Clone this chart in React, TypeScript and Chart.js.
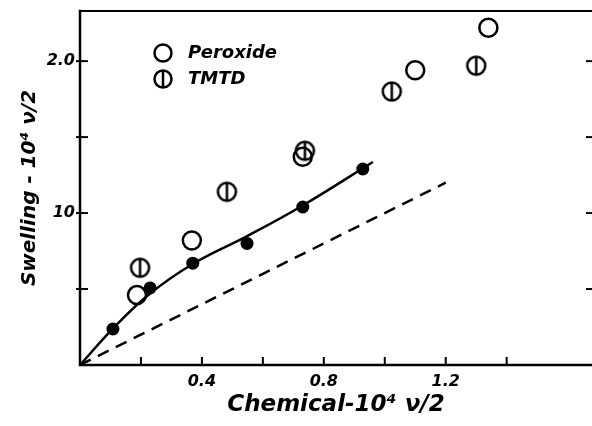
import React, { useEffect, useRef } from 'react';
import { Chart, registerables } from 'chart.js';
Chart.register(...registerables);

const peroxideX = [0.187, 0.367, 0.731, 1.1, 1.34];
const peroxideY = [0.46, 0.82, 1.37, 1.94, 2.22];
const tmtdX = [0.197, 0.482, 0.738, 1.023, 1.3];
const tmtdY = [0.64, 1.14, 1.41, 1.8, 1.97];
const filledX = [0.108, 0.23, 0.37, 0.548, 0.731, 0.928];
const filledY = [0.237, 0.507, 0.67, 0.8, 1.04, 1.29];
const curveX = [0, 0.108, 0.23, 0.37, 0.55, 0.731, 0.961];
const curveY = [0, 0.24, 0.47, 0.665, 0.85, 1.05, 1.336];
const dashX = [0, 1.2];
const dashY = [0, 1.2];
const xTickLabels: Record<string, string> = { '0.4': '0.4', '0.8': '0.8', '1.2': '1.2' };
const yTickLabels: Record<string, string> = { '1.0': '10', '2.0': '2.0' };
const legendLabels = ['Peroxide', 'TMTD'];
const xTitle = 'Chemical-10\u2074 \u03BD/2';
const yTitle = 'Swelling - 10\u2074 \u03BD/2';
const xStep = 0.2;
const yStep = 0.5;

const zip = (xs: number[], ys: number[]) => xs.map((x, i) => ({ x, y: ys[i] }));
const onStep = (v: number, step: number) => Math.abs(v / step - Math.round(v / step)) < 1e-6;

function makeTmtdMarker(r: number, lw: number): HTMLCanvasElement {
  const size = Math.ceil(2 * r + lw + 2);
  const c = document.createElement('canvas');
  c.width = size;
  c.height = size;
  const g = c.getContext('2d')!;
  const m = size / 2;
  g.strokeStyle = '#000';
  g.lineWidth = lw;
  g.beginPath();
  g.arc(m, m, r, 0, Math.PI * 2);
  g.stroke();
  g.beginPath();
  g.moveTo(m, m - r);
  g.lineTo(m, m + r);
  g.stroke();
  return c;
}

const tickFont = { family: 'DejaVu Sans', style: 'italic' as const, weight: 'bold' as const, size: 16 };
const xTitleFont = { family: 'DejaVu Sans', style: 'italic' as const, weight: 'bold' as const, size: 23 };
const yTitleFont = { family: 'DejaVu Sans', style: 'italic' as const, weight: 'bold' as const, size: 20 };

export default function App() {
  const ref = useRef<HTMLCanvasElement>(null);
  useEffect(() => {
    document.body.style.margin = '0';
    const tmtdMarker = makeTmtdMarker(9, 2.5);
    const tmtdLegendMarker = makeTmtdMarker(8.5, 2.5);

    const framePlugin = {
      id: 'frame',
      afterDraw(chart: any) {
        const { ctx, chartArea: ca, scales } = chart;
        ctx.save();
        ctx.strokeStyle = '#000';
        ctx.lineCap = 'square';
        ctx.lineWidth = 2.5;
        ctx.beginPath();
        ctx.moveTo(ca.left, ca.top);
        ctx.lineTo(ca.left, ca.bottom);
        ctx.lineTo(ca.right, ca.bottom);
        ctx.stroke();
        ctx.lineWidth = 2;
        ctx.beginPath();
        ctx.moveTo(ca.left, ca.top);
        ctx.lineTo(ca.right, ca.top);
        ctx.stroke();
        ctx.lineWidth = 2;
        ctx.lineCap = 'butt';
        scales.x.ticks.forEach((t: any) => {
          if (t.value <= 0 || !onStep(t.value, xStep)) return;
          const px = scales.x.getPixelForValue(t.value);
          ctx.beginPath();
          ctx.moveTo(px, ca.bottom + 1);
          ctx.lineTo(px, ca.bottom - 8);
          ctx.stroke();
        });
        scales.y.ticks.forEach((t: any) => {
          if (t.value <= 0 || !onStep(t.value, yStep)) return;
          const py = scales.y.getPixelForValue(t.value);
          ctx.beginPath();
          ctx.moveTo(ca.left - 4, py);
          ctx.lineTo(ca.left + 8, py);
          ctx.stroke();
          ctx.beginPath();
          ctx.moveTo(ca.right - 6, py);
          ctx.lineTo(ca.right, py);
          ctx.stroke();
        });
        // legend
        const lx = ca.left + 83;
        const ly1 = ca.top + 42;
        const ly2 = ca.top + 68;
        ctx.lineWidth = 2.5;
        ctx.beginPath();
        ctx.arc(lx, ly1, 8.5, 0, Math.PI * 2);
        ctx.stroke();
        ctx.drawImage(tmtdLegendMarker, lx - tmtdLegendMarker.width / 2, ly2 - tmtdLegendMarker.height / 2);
        ctx.fillStyle = '#000';
        ctx.font = 'italic bold 18px "DejaVu Sans"';
        ctx.textBaseline = 'middle';
        ctx.textAlign = 'left';
        ctx.fillText(legendLabels[0], lx + 25, ly1);
        ctx.fillText(legendLabels[1], lx + 25, ly2);
        ctx.restore();
      },
    };

    const chart = new Chart(ref.current!, {
      type: 'scatter',
      data: {
        datasets: [
          {
            label: 'curve',
            type: 'line',
            data: zip(curveX, curveY),
            borderColor: '#000',
            borderWidth: 2.5,
            pointRadius: 0,
            tension: 0.4,
            showLine: true,
            fill: false,
          } as any,
          {
            label: 'dashed',
            type: 'line',
            data: zip(dashX, dashY),
            borderColor: '#000',
            borderWidth: 2.5,
            borderDash: [12, 8],
            pointRadius: 0,
            showLine: true,
            fill: false,
          } as any,
          {
            label: 'filled',
            data: zip(filledX, filledY),
            pointRadius: 6.5,
            backgroundColor: '#000',
            borderColor: '#000',
            borderWidth: 0,
          },
          {
            label: legendLabels[1],
            data: zip(tmtdX, tmtdY),
            pointStyle: tmtdMarker as any,
          },
          {
            label: legendLabels[0],
            data: zip(peroxideX, peroxideY),
            pointRadius: 9,
            backgroundColor: 'rgba(0,0,0,0)',
            borderColor: '#000',
            borderWidth: 2.5,
          },
        ],
      },
      options: {
        responsive: false,
        animation: false,
        events: [],
        layout: { autoPadding: false, padding: { top: 11, right: 0, left: 0, bottom: 0 } },
        plugins: { legend: { display: false }, tooltip: { enabled: false } },
        scales: {
          x: {
            type: 'linear',
            min: 0,
            max: 1.68,
            grid: { display: false, drawTicks: false },
            border: { display: false },
            ticks: {
              stepSize: xStep,
              autoSkip: false,
              maxRotation: 0,
              padding: 7,
              color: '#000',
              font: tickFont,
              callback: (v: any) => xTickLabels[(Math.round(Number(v) * 10) / 10).toFixed(1)] ?? '',
            },
            title: { display: true, text: xTitle, color: '#000', font: xTitleFont, padding: { top: 0, bottom: 7 } },
            afterFit: (s: any) => {
              s.height = 61;
              s.paddingLeft = 0;
              s.paddingRight = 0;
            },
          },
          y: {
            type: 'linear',
            min: 0,
            max: 2.33,
            grid: { display: false, drawTicks: false },
            border: { display: false },
            ticks: {
              stepSize: yStep,
              autoSkip: false,
              padding: 5,
              color: '#000',
              font: tickFont,
              callback: (v: any) => yTickLabels[(Math.round(Number(v) * 10) / 10).toFixed(1)] ?? '',
            },
            title: { display: true, text: yTitle, color: '#000', font: yTitleFont, padding: { top: 18, bottom: 0 } },
            afterFit: (s: any) => {
              s.width = 80;
              s.paddingTop = 0;
              s.paddingBottom = 0;
            },
          },
        },
      },
      plugins: [framePlugin],
    });
    return () => chart.destroy();
  }, []);
  return (
    <div style={{ width: 592, height: 426, background: '#fff' }}>
      <canvas ref={ref} width={592} height={426} />
    </div>
  );
}
